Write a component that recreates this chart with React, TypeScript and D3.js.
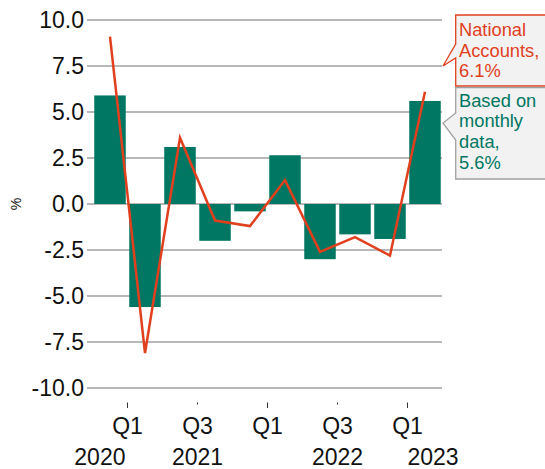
import * as d3 from "d3";
import { useEffect, useRef } from "react";

// quarterly growth, annualised (%)
const periods = ["p1", "p2", "p3", "p4", "p5", "p6", "p7", "p8", "p9", "p10"];
const monthlyBased = [5.9, -5.6, 3.1, -2.0, -0.4, 2.65, -3.0, -1.65, -1.9, 5.6];
const nationalAccounts = [9.1, -8.1, 3.6, -0.9, -1.2, 1.3, -2.6, -1.8, -2.8, 6.1];

const yTicks = [10, 7.5, 5, 2.5, 0, -2.5, -5, -7.5, -10];
// x ticks sit on the boundary after the given bar index
const xTickAfter = [0, 2, 4, 6, 8];
const xTickQuarter = ["Q1", "Q3", "Q1", "Q3", "Q1"];
const xTickYear = ["2020", "2021", "", "2022", "2023"];

const GREEN = "#007762";
const RED = "#e0401e";
const GRID = "#a0a0a0";
const FONT = "Liberation Sans, Arial, sans-serif";

const App = () => {
  const ref = useRef<SVGSVGElement>(null);

  useEffect(() => {
    const width = 545,
      height = 469;
    const svg = d3.select(ref.current);
    svg.selectAll("*").remove();

    const x = d3
      .scaleBand()
      .domain(periods)
      .range([92.5, 442.5])
      .paddingInner(0.1)
      .paddingOuter(0.05);
    const y = d3.scaleLinear().domain([-10, 10]).range([388, 20]);
    const step = x.step();

    // gridlines + y tick marks
    const grid = svg.append("g");
    grid
      .selectAll("line.grid")
      .data(yTicks)
      .join("line")
      .attr("x1", 87)
      .attr("x2", 442)
      .attr("y1", (d) => y(d))
      .attr("y2", (d) => y(d))
      .attr("stroke", GRID)
      .attr("stroke-width", 1.4);
    grid
      .selectAll("text")
      .data(yTicks)
      .join("text")
      .attr("x", 84)
      .attr("y", (d) => y(d))
      .attr("dy", "0.34em")
      .attr("text-anchor", "end")
      .attr("font-family", FONT)
      .attr("font-size", 23)
      .attr("fill", "#111")
      .text((d) => d3.format(".1f")(d).replace("−", "-"));

    svg
      .append("text")
      .attr("transform", `translate(21,${y(0)}) rotate(-90)`)
      .attr("text-anchor", "middle")
      .attr("font-family", FONT)
      .attr("font-size", 14)
      .attr("fill", "#111")
      .text("%");

    // bars
    svg
      .append("g")
      .selectAll("rect")
      .data(monthlyBased)
      .join("rect")
      .attr("x", (_, i) => x(periods[i])!)
      .attr("width", x.bandwidth())
      .attr("y", (d) => y(Math.max(0, d)))
      .attr("height", (d) => Math.abs(y(d) - y(0)))
      .attr("fill", GREEN);

    // line
    const line = d3
      .line<number>()
      .x((_, i) => x(periods[i])! + x.bandwidth() / 2)
      .y((d) => y(d));
    svg
      .append("path")
      .datum(nationalAccounts)
      .attr("d", line)
      .attr("fill", "none")
      .attr("stroke", RED)
      .attr("stroke-width", 2.5)
      .attr("stroke-linejoin", "miter");

    // x axis ticks
    const tickX = (i: number) => x(periods[i + 1])! - (step * 0.1) / 2;
    const xa = svg.append("g").attr("font-family", FONT).attr("fill", "#111");
    xTickAfter.forEach((after, k) => {
      const tx = tickX(after);
      const major = xTickQuarter[k] === "Q1";
      xa.append("line")
        .attr("x1", tx)
        .attr("x2", tx)
        .attr("y1", 402.5)
        .attr("y2", major ? 408 : 404.5)
        .attr("stroke", "#333")
        .attr("stroke-width", 1);
      xa.append("text")
        .attr("x", tx)
        .attr("y", 434)
        .attr("text-anchor", "middle")
        .attr("font-size", 23)
        .text(xTickQuarter[k]);
      if (xTickYear[k]) {
        const anchor = k === 0 ? "end" : k === xTickAfter.length - 1 ? "start" : "middle";
        xa.append("text")
          .attr("x", k === 0 ? tx - 2 : tx)
          .attr("y", 464.5)
          .attr("text-anchor", anchor)
          .attr("font-size", 23)
          .text(xTickYear[k]);
      }
    });

    // callouts
    const callout = (
      top: number,
      bottom: number,
      baseTop: number,
      baseBottom: number,
      tipY: number,
      stroke: string,
      color: string,
      lines: string[],
      firstBaseline: number
    ) => {
      const left = 455.7,
        right = width + 10,
        tipX = 443;
      const g = svg.append("g");
      g.append("path")
        .attr(
          "d",
          `M${left},${top}H${right}V${bottom}H${left}V${baseBottom}L${tipX},${tipY}L${left},${baseTop}Z`
        )
        .attr("fill", "#f2f2f2")
        .attr("stroke", stroke)
        .attr("stroke-width", 1.3);
      g.selectAll("text")
        .data(lines)
        .join("text")
        .attr("x", 459)
        .attr("y", (_, i) => firstBaseline + i * 20.7)
        .attr("font-family", FONT)
        .attr("font-size", 18.3)
        .attr("fill", color)
        .text((d) => d);
    };
    callout(15, 86, 44, 58, y(7.5), RED, RED, ["National", "Accounts,", "6.1%"], 35.8);
    callout(87.5, 179, 113, 140, y(4.4), "#a0a0a0", GREEN, ["Based on", "monthly", "data,", "5.6%"], 106.7);

    svg.attr("width", width).attr("height", height);
  }, []);

  return (
    <svg
      ref={ref}
      width={545}
      height={469}
      style={{ position: "absolute", left: 0, top: 0, background: "#fff" }}
    />
  );
};

export default App;
